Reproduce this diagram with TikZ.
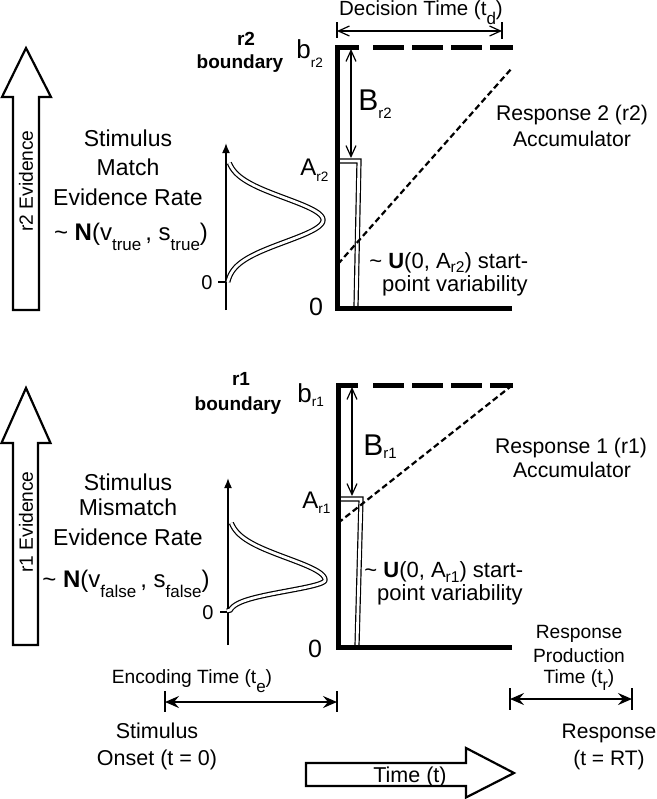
\documentclass[tikz,border=0pt]{standalone}
\usepackage{fontspec}
\setmainfont{Liberation Sans}
\usetikzlibrary{arrows.meta}
\newcommand\fs[1]{\fontsize{#1}{#1}\selectfont}
\newcommand\lsub[3]{\raisebox{-#1}{\fs{#2}#3}}
\begin{document}
\begin{tikzpicture}[x=0.5pt,y=-0.5pt,
  txt/.style={inner sep=0pt, anchor=base},
  txtw/.style={inner sep=0pt, anchor=base west},
  thickln/.style={line width=2.5pt, line join=miter},
  bnddash/.style={line width=2.5pt, dash pattern=on 15.5pt off 4pt},
  dotln/.style={line width=1.1pt, dash pattern=on 3pt off 1.7pt},
  dbl/.style={line width=0.6pt, double=white, double distance=1.4pt},
  barb/.style={line width=0.6pt, {Straight Barb[length=5.5pt,width=5pt]}-{Straight Barb[length=5.5pt,width=5pt]}},
  encarr/.style={line width=1pt, {Stealth[length=7pt,width=6pt,inset=2.5pt]}-{Stealth[length=7pt,width=6pt,inset=2.5pt]}},
  tickln/.style={line width=1pt},
  thintick/.style={line width=0.6pt},
  axarr/.style={line width=0.8pt, -{Latex[length=5pt,width=4pt]}},
  blockarr/.style={draw=black, fill=white, line width=1.1pt, line join=miter},
  lefttxt/.style={txt, font=\fs{11.5}},
  righttxt/.style={txt, font=\fs{10.6}},
  unitxt/.style={txt, font=\fs{11}},
  bndtxt/.style={txt, font=\fs{9.5}\bfseries},
]
\useasboundingbox (0,0) rectangle (657,799);

% ---------------- top panel (r2) ----------------
\node[txt, font=\fs{10.25}] (dtlab) at (421,15) {Decision Time (t\lsub{4.5pt}{8.5}{d})};
\coordinate (dtl) at (337,31);
\coordinate (dtr) at (502,31);
\draw[thintick] (337,22) -- (337,38);
\draw[thintick] (502,22) -- (502,39);
\draw[barb] (dtl) -- (dtr);

\coordinate (b2) at (337,47);
\coordinate (o2) at (337,308);
\coordinate (e2) at (512,308);
\coordinate (a2) at (351,158);
\coordinate (bt2) at (351,49);
\draw[dbl] (339,161) -- (359,161) -- (356,307);
\draw[thickln] (e2) -- (o2) -- (b2) -- (359,47);
\draw[bnddash] (373,47) -- (513,47);
\draw[dotln] (338,264) -- (512,68);
\draw[barb] (bt2) -- (a2);

\node[bndtxt] (r2lab) at (246,45) {r2};
\node[bndtxt] (bnd2) at (240,68) {boundary};
\node[txtw, font=\fs{13}] (bb2) at (296,58) {b\lsub{4.5pt}{6.8}{r2}};
\node[txtw, font=\fs{15}] (BB2) at (358,110) {B\lsub{4pt}{7.5}{r2}};
\node[txtw, font=\fs{12}] (AA2) at (300,175) {A\lsub{3pt}{6.8}{r2}};
\node[txt, font=\fs{12.5}] (zero2) at (316,315) {0};
\node[righttxt] (resp2a) at (572,120) {Response 2 (r2)};
\node[righttxt] (resp2b) at (572,146) {Accumulator};
\node[txtw, font=\fs{11}] (unif2a) at (369,268) {\textasciitilde\ \textbf{U}(0, A\lsub{2pt}{7.8}{r2}) start-};
\node[unitxt] (unif2b) at (455,291) {point variability};

\draw[blockarr] (13,310) -- (13,97) -- (2,97) -- (26,48) -- (51,97) -- (39,97) -- (39,310) -- cycle;
\node[font=\fs{9.6}, rotate=90, inner sep=0pt] (ev2) at (26,181) {r2 Evidence};
\node[lefttxt] (st2a) at (128,146) {Stimulus};
\node[lefttxt] (st2b) at (128,175) {Match};
\node[lefttxt] (st2c) at (128,205) {Evidence Rate};
\node[txt, font=\fs{12}] (st2d) at (131,240) {\textasciitilde\ \textbf{N}(v\lsub{5pt}{8.5}{true}\,, s\lsub{5pt}{8.5}{true})};

\coordinate (ax2b) at (226,310);
\coordinate (ax2t) at (226,143);
\draw[axarr] (ax2b) -- (ax2t);
\draw[line width=0.8pt] (218,282) -- (226,282);
\node[txt, font=\fs{10}] (dz2) at (207,289) {0};
\draw[dbl] plot[domain=163:282, samples=90, variable=\t] ({226+97*exp(-((\t-220)/22)^2/2)}, \t);

% ---------------- bottom panel (r1) ----------------
\coordinate (b1) at (338,385);
\coordinate (o1) at (338,647);
\coordinate (e1) at (512,647);
\coordinate (a1) at (352,496);
\coordinate (bt1) at (352,387);
\draw[dbl] (340,499) -- (361,499) -- (357,646);
\draw[thickln] (e1) -- (o1) -- (b1) -- (358,385);
\draw[bnddash] (373,385) -- (513,385);
\draw[dotln] (338,523) -- (510,387);
\draw[barb] (bt1) -- (a1);

\node[bndtxt] (r1lab) at (241,385) {r1};
\node[bndtxt] (bnd1) at (238,410) {boundary};
\node[txtw, font=\fs{13}] (bb1) at (297,402) {b\lsub{2pt}{6.8}{r1}};
\node[txtw, font=\fs{15}] (BB1) at (363,455) {B\lsub{1.5pt}{7.5}{r1}};
\node[txtw, font=\fs{12}] (AA1) at (302,508) {A\lsub{2.5pt}{6.8}{r1}};
\node[txt, font=\fs{12.5}] (zero1) at (315,657) {0};
\node[righttxt] (resp1a) at (571,453) {Response 1 (r1)};
\node[righttxt] (resp1b) at (572,477) {Accumulator};
\node[txtw, font=\fs{11}] (unif1a) at (364,577) {\textasciitilde\ \textbf{U}(0, A\lsub{2.5pt}{7.8}{r1}) start-};
\node[unitxt] (unif1b) at (450,600) {point variability};

\draw[blockarr] (13,645) -- (13,443) -- (1.5,443) -- (26,388) -- (50.5,443) -- (38,443) -- (38,645) -- cycle;
\node[font=\fs{9.6}, rotate=90, inner sep=0pt] (ev1) at (26,522) {r1 Evidence};
\node[lefttxt] (st1a) at (128,490) {Stimulus};
\node[lefttxt] (st1b) at (128,515) {Mismatch};
\node[lefttxt] (st1c) at (128,545) {Evidence Rate};
\node[txt, font=\fs{12}] (st1d) at (126,587) {\textasciitilde\ \textbf{N}(v\lsub{5pt}{8.5}{false}\,, s\lsub{5pt}{8.5}{false})};

\coordinate (ax1b) at (228,645);
\coordinate (ax1t) at (228,478);
\draw[axarr] (ax1b) -- (ax1t);
\draw[line width=0.8pt] (220,612) -- (228,612);
\node[txt, font=\fs{10}] (dz1) at (208,619) {0};
\draw[dbl] plot[domain=523:580, samples=60, variable=\t] ({228+97*exp(-((\t-580)/22)^2/2)}, \t)
  -- plot[domain=580:610, samples=40, variable=\t] ({228+97*exp(-((\t-580)/11)^2/2)}, \t) -- (227,611);

% ---------------- time axis ----------------
\node[txt, font=\fs{9.6}] (enclab) at (192,683) {Encoding Time (t\lsub{4.5pt}{8.5}{e})};
\coordinate (etl) at (165,702);
\coordinate (etr) at (337,702);
\draw[tickln] (165,691) -- (165,712);
\draw[tickln] (337,691) -- (337,712);
\draw[encarr] (etl) -- (etr);
\node[txt, font=\fs{10.75}] (onset1) at (157,738) {Stimulus};
\node[txt, font=\fs{10.75}] (onset2) at (157,765) {Onset (t = 0)};

\node[txt, font=\fs{9.6}] (rp1) at (579,638) {Response};
\node[txt, font=\fs{9.6}] (rp2) at (579,662) {Production};
\node[txt, font=\fs{9.6}] (rp3) at (579,683) {Time (t\lsub{3.5pt}{8}{r})};
\coordinate (rtl) at (510,699);
\coordinate (rtr) at (632,699);
\draw[tickln] (510,688) -- (510,710);
\draw[tickln] (632,688) -- (632,710);
\draw[encarr] (rtl) -- (rtr);
\node[txt, font=\fs{10.5}] (rt1) at (609,738) {Response};
\node[txt, font=\fs{10.5}] (rt2) at (609,765) {(t = RT)};

\draw[blockarr] (306,763) -- (466,763) -- (466,748) -- (514,773) -- (466,797.5) -- (466,786) -- (306,786) -- cycle;
\node[txt, font=\fs{10.75}] (timelab) at (410,782) {Time (t)};
\end{tikzpicture}
\end{document}
